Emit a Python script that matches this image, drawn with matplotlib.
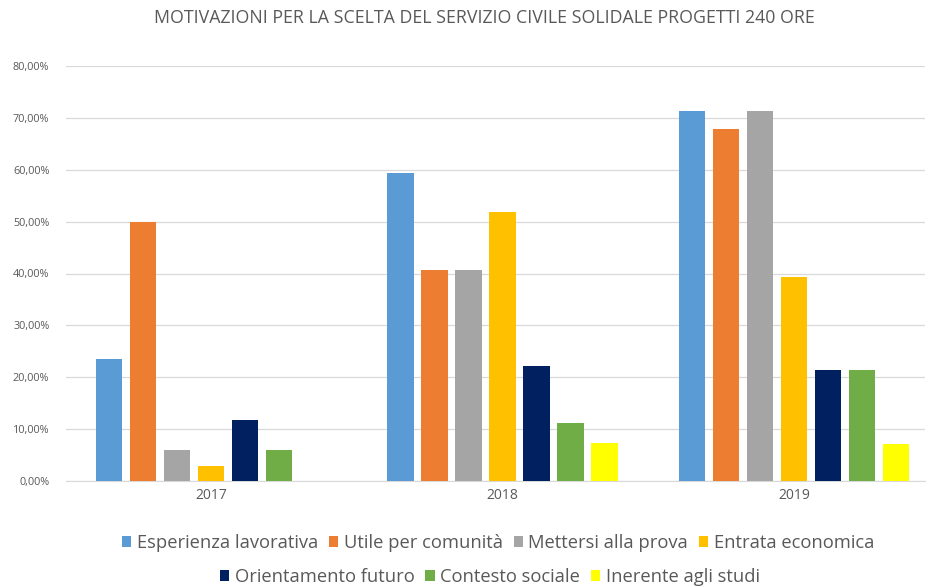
import numpy as np
import matplotlib
matplotlib.use("Agg")
import matplotlib.pyplot as plt
from matplotlib.ticker import FuncFormatter

plt.rcParams['font.family'] = ['Open Sans', 'DejaVu Sans']

# data (percent)
years = ["2017", "2018", "2019"]
series = ["Esperienza lavorativa", "Utile per comunità", "Mettersi alla prova",
          "Entrata economica", "Orientamento futuro", "Contesto sociale",
          "Inerente agli studi"]
esperienza = [23.5, 59.3, 71.4]
utile = [50.0, 40.7, 67.9]
mettersi = [5.9, 40.7, 71.4]
entrata = [2.9, 51.9, 39.3]
orientamento = [11.8, 22.2, 21.4]
contesto = [5.9, 11.1, 21.4]
inerente = [0.0, 7.4, 7.1]
values = [esperienza, utile, mettersi, entrata, orientamento, contesto, inerente]
colors = ["#5B9BD5", "#ED7D31", "#A5A5A5", "#FFC000", "#002060", "#70AD47", "#FFFF00"]

txt = "#595959"
fig = plt.figure(figsize=(9.33, 5.87), dpi=100)
ax = fig.add_axes([66 / 933, 1 - 481 / 587, (925 - 66) / 933, (481 - 66) / 587])

x = np.arange(len(years))
pitch = 0.1166
width = 0.092
handles = []
for i, (name, vals, c) in enumerate(zip(series, values, colors)):
    off = (i - 3) * pitch
    h = ax.bar(x + off, vals, width, color=c, label=name, zorder=3)
    handles.append(h)

ax.set_xlim(-0.497, 2.449)
ax.set_ylim(0, 80)
ax.set_yticks(np.arange(0, 81, 10))
ax.yaxis.set_major_formatter(FuncFormatter(lambda v, p: f"{v:.2f}%".replace(".", ",")))
ax.set_xticks(x)
ax.set_xticklabels(years)
ax.grid(axis="y", color="#D9D9D9", linewidth=0.9, zorder=0)
for s in ["top", "right", "left"]:
    ax.spines[s].set_visible(False)
ax.spines["bottom"].set_color("#D9D9D9")
ax.tick_params(axis="y", length=0, labelsize=7.8, labelcolor=txt, pad=12)
ax.tick_params(axis="x", length=0, labelsize=10, labelcolor=txt, pad=5)

fig.suptitle("MOTIVAZIONI PER LA SCELTA DEL SERVIZIO CIVILE SOLIDALE PROGETTI 240 ORE",
             x=0.519, y=0.985, fontsize=12.8, color=txt)

kw = dict(frameon=False, fontsize=13.2, labelcolor=txt, handlelength=0.5,
          handleheight=0.5, handletextpad=0.3, columnspacing=0.6)
fig.legend(handles[:4], series[:4], ncol=4, loc="center",
           bbox_to_anchor=(0.534, 1 - 543 / 587), **kw)
fig.legend(handles[4:], series[4:], ncol=3, loc="center",
           bbox_to_anchor=(0.525, 1 - 577 / 587), **kw)

fig.savefig("out.png", dpi=100, facecolor="white")
